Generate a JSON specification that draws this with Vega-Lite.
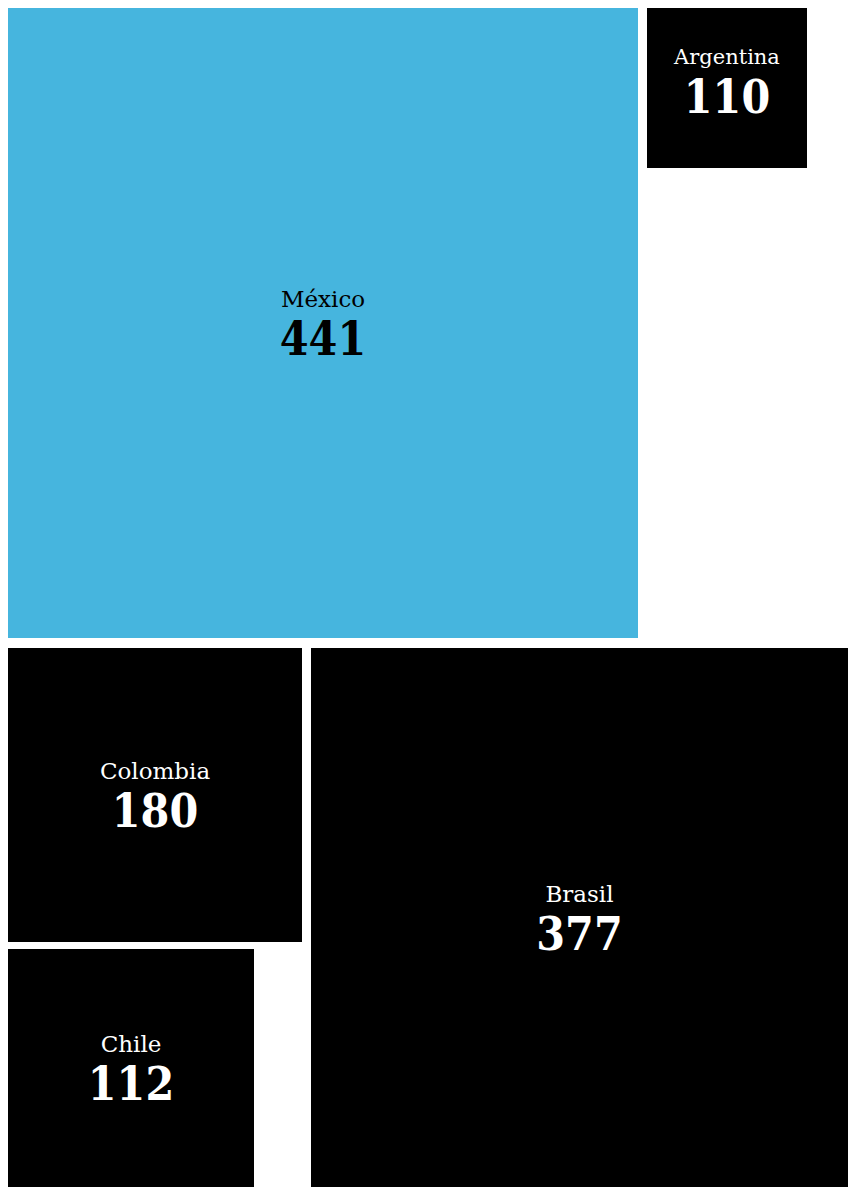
{
  "$schema": "https://vega.github.io/schema/vega-lite/v6.json",
  "padding": {"left": 8, "top": 8, "right": 0, "bottom": 0},
  "background": "white",
  "datasets": {
    "paises": [
      {"pais": "México", "valor": 441},
      {"pais": "Argentina", "valor": 110},
      {"pais": "Colombia", "valor": 180},
      {"pais": "Chile", "valor": 112},
      {"pais": "Brasil", "valor": 377}
    ]
  },
  "config": {
    "view": {"stroke": null},
    "text": {"font": "DejaVu Serif Condensed", "baseline": "alphabetic", "align": "center"}
  },
  "spacing": 10,
  "vconcat": [
    {
      "spacing": 9,
      "hconcat": [
        {
          "width": 630, "height": 630,
          "data": {"name": "paises"},
          "transform": [{"filter": "datum.pais === 'México'"}],
          "layer": [
            {"mark": {"type": "rect", "fill": "#46b5de"}, "encoding": {"x": {"value": 0}, "x2": {"value": "width"}, "y": {"value": 0}, "y2": {"value": "height"}}},
            {"mark": {"type": "text", "font": "DejaVu Serif", "fontSize": 23, "fill": "#000000", "dy": -16}, "encoding": {"text": {"field": "pais"}}},
            {"mark": {"type": "text", "fontSize": 46, "fontWeight": "bold", "fill": "#000000", "dy": 32}, "encoding": {"text": {"field": "valor"}}}
          ]
        },
        {
          "width": 160, "height": 160,
          "data": {"name": "paises"},
          "transform": [{"filter": "datum.pais === 'Argentina'"}],
          "layer": [
            {"mark": {"type": "rect", "fill": "#000000"}, "encoding": {"x": {"value": 0}, "x2": {"value": "width"}, "y": {"value": 0}, "y2": {"value": "height"}}},
            {"mark": {"type": "text", "font": "DejaVu Serif", "fontSize": 21, "fill": "#ffffff", "dy": -24}, "encoding": {"text": {"field": "pais"}}},
            {"mark": {"type": "text", "fontSize": 46, "fontWeight": "bold", "fill": "#ffffff", "dy": 25}, "encoding": {"text": {"field": "valor"}}}
          ]
        }
      ]
    },
    {
      "spacing": 9,
      "hconcat": [
        {
          "spacing": 7,
          "vconcat": [
            {
              "width": 294, "height": 294,
              "data": {"name": "paises"},
              "transform": [{"filter": "datum.pais === 'Colombia'"}],
              "layer": [
                {"mark": {"type": "rect", "fill": "#000000"}, "encoding": {"x": {"value": 0}, "x2": {"value": "width"}, "y": {"value": 0}, "y2": {"value": "height"}}},
                {"mark": {"type": "text", "font": "DejaVu Serif", "fontSize": 23, "fill": "#ffffff", "dy": -16}, "encoding": {"text": {"field": "pais"}}},
                {"mark": {"type": "text", "fontSize": 46, "fontWeight": "bold", "fill": "#ffffff", "dy": 32}, "encoding": {"text": {"field": "valor"}}}
              ]
            },
            {
              "width": 246, "height": 238,
              "data": {"name": "paises"},
              "transform": [{"filter": "datum.pais === 'Chile'"}],
              "layer": [
                {"mark": {"type": "rect", "fill": "#000000"}, "encoding": {"x": {"value": 0}, "x2": {"value": "width"}, "y": {"value": 0}, "y2": {"value": "height"}}},
                {"mark": {"type": "text", "font": "DejaVu Serif", "fontSize": 23, "fill": "#ffffff", "dy": -16}, "encoding": {"text": {"field": "pais"}}},
                {"mark": {"type": "text", "fontSize": 46, "fontWeight": "bold", "fill": "#ffffff", "dy": 32}, "encoding": {"text": {"field": "valor"}}}
              ]
            }
          ]
        },
        {
          "width": 537, "height": 539,
          "data": {"name": "paises"},
          "transform": [{"filter": "datum.pais === 'Brasil'"}],
          "layer": [
            {"mark": {"type": "rect", "fill": "#000000"}, "encoding": {"x": {"value": 0}, "x2": {"value": "width"}, "y": {"value": 0}, "y2": {"value": "height"}}},
            {"mark": {"type": "text", "font": "DejaVu Serif", "fontSize": 23, "fill": "#ffffff", "dy": -16}, "encoding": {"text": {"field": "pais"}}},
            {"mark": {"type": "text", "fontSize": 46, "fontWeight": "bold", "fill": "#ffffff", "dy": 32}, "encoding": {"text": {"field": "valor"}}}
          ]
        }
      ]
    }
  ]
}
